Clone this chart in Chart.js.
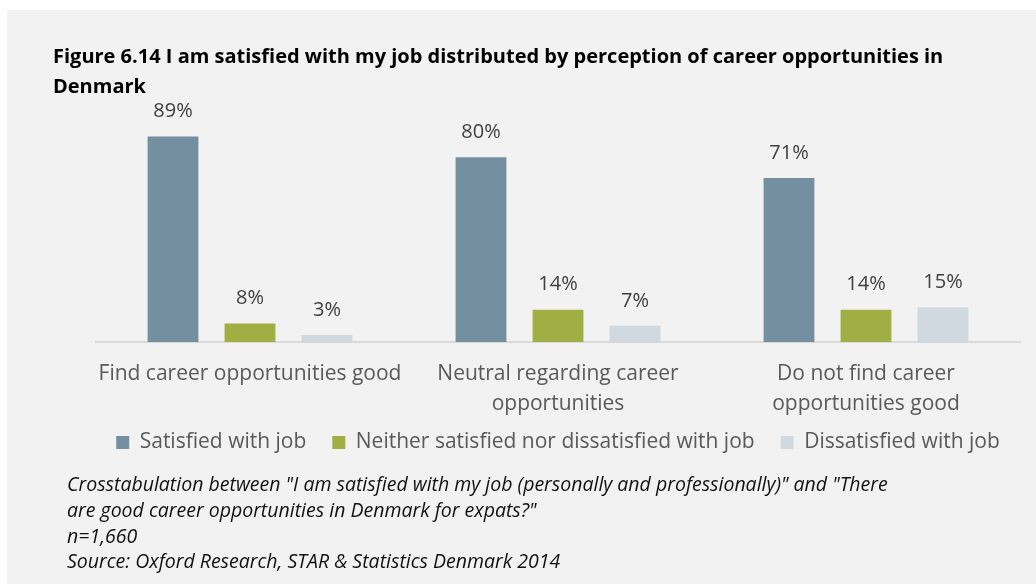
<!DOCTYPE html>
<html lang="en">
<head>
  <meta charset="UTF-8" />
  <title>Figure 6.14</title>
  <script src="https://cdn.jsdelivr.net/npm/chart.js@4.4.1/dist/chart.umd.min.js"></script>
  <style>
    body {
      margin: 0;
      background: #ffffff;
      font-family: 'Open Sans', sans-serif;
    }
    .panel {
      position: absolute;
      left: 7px;
      top: 10px;
      width: 1029px;
      height: 574px;
      background: #f2f2f2;
    }
    .title {
      position: absolute;
      left: 46px;
      top: 31px;
      font-size: 20px;
      font-weight: bold;
      line-height: 30px;
      color: #000;
      white-space: nowrap;
    }
    .chart-box {
      position: absolute;
      left: 0;
      top: 0;
      width: 1029px;
      height: 480px;
    }
    .caption {
      position: absolute;
      left: 60px;
      top: 461px;
      font-size: 19.5px;
      font-style: italic;
      line-height: 25.8px;
      color: #111;
      white-space: nowrap;
    }
  </style>
</head>
<body>
  <div class="panel">
    <div class="chart-box"><canvas id="chart"></canvas></div>
    <div class="title">Figure 6.14 I am satisfied with my job distributed by perception of career opportunities in<br>Denmark</div>
    <div class="caption">
      Crosstabulation between "I am satisfied with my job (personally and professionally)" and "There<br>
      are good career opportunities in Denmark for expats?"<br>
      n=1,660<br>
      Source: Oxford Research, STAR &amp; Statistics Denmark 2014
    </div>
  </div>

<script>
  // categories (multi-line tick labels)
  const categories = [
    ['Find career opportunities good'],
    ['Neutral regarding career', 'opportunities'],
    ['Do not find career', 'opportunities good']
  ];
  const satisfied = [89, 80, 71];
  const neither = [8, 14, 14];
  const dissatisfied = [3, 7, 15];
  const seriesNames = ['Satisfied with job', 'Neither satisfied nor dissatisfied with job', 'Dissatisfied with job'];
  const seriesColors = ['#738fa0', '#a0af44', '#d0d9e0'];

  // draws the "xx%" label above each bar
  const valueLabels = {
    id: 'valueLabels',
    afterDatasetsDraw(chart) {
      const ctx = chart.ctx;
      ctx.save();
      ctx.font = '20px "Open Sans", sans-serif';
      ctx.fillStyle = '#404040';
      ctx.textAlign = 'center';
      ctx.textBaseline = 'middle';
      chart.data.datasets.forEach((ds, i) => {
        chart.getDatasetMeta(i).data.forEach((bar, j) => {
          ctx.fillText(ds.data[j] + '%', bar.x, bar.y - 25);
        });
      });
      ctx.restore();
    }
  };

  const allSeries = [satisfied, neither, dissatisfied];

  new Chart(document.getElementById('chart'), {
    type: 'bar',
    data: {
      labels: categories,
      datasets: allSeries.map((vals, i) => ({
        label: seriesNames[i],
        data: vals,
        backgroundColor: seriesColors[i],
        categoryPercentage: 0.75,
        barPercentage: 0.66
      }))
    },
    options: {
      responsive: true,
      maintainAspectRatio: false,
      animation: false,
      layout: {
        padding: { left: 89, right: 16, top: 101, bottom: 27 }
      },
      scales: {
        y: {
          display: false,
          min: 0,
          max: 100
        },
        x: {
          grid: { display: false },
          border: { display: true, color: '#d9d9d9', width: 2 },
          ticks: {
            color: '#595959',
            padding: 9,
            maxRotation: 0,
            minRotation: 0,
            autoSkip: false,
            font: { family: 'Open Sans', size: 21, lineHeight: 1.43 }
          },
          // keep the axis box short so the legend sits close under the labels
          afterFit(scale) {
            scale.height = 78;
            scale.paddingLeft = 0;
            scale.paddingRight = 0;
          }
        }
      },
      plugins: {
        legend: {
          position: 'bottom',
          labels: {
            color: '#595959',
            boxWidth: 13,
            boxHeight: 13,
            padding: 12,
            font: { family: 'Open Sans', size: 21 },
            // wider gap between legend entries than the vertical padding
            generateLabels(chart) {
              const items = Chart.defaults.plugins.legend.labels.generateLabels(chart);
              items.forEach((it, i) => {
                if (i < items.length - 1) it.text += '\u2002\u2009';
              });
              return items;
            }
          }
        },
        tooltip: { enabled: false }
      }
    },
    plugins: [valueLabels]
  });
</script>
</body>
</html>
